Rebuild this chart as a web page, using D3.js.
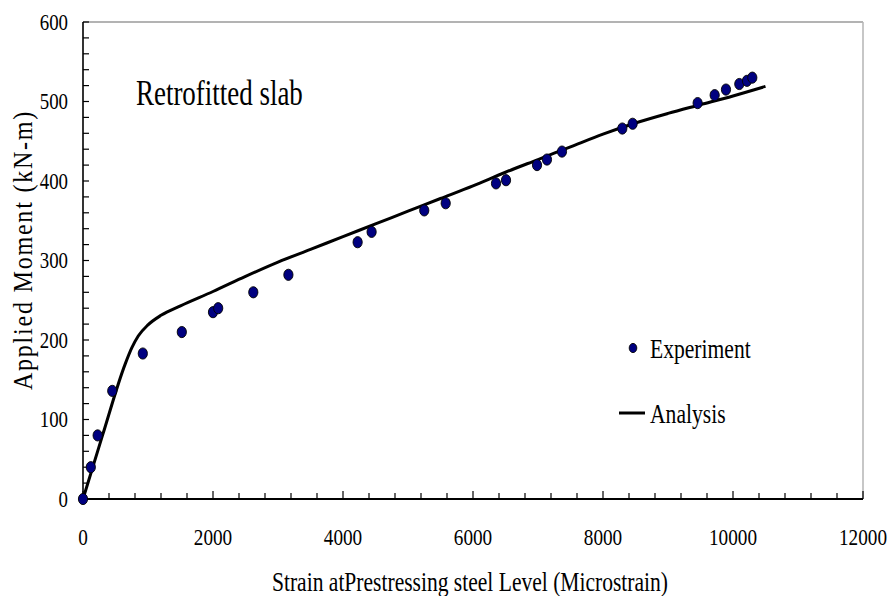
<!DOCTYPE html>
<html>
<head>
<meta charset="utf-8">
<script src="https://cdn.jsdelivr.net/npm/d3@7"></script>
<style>
  html, body { margin: 0; padding: 0; background: #fff; }
  svg { display: block; }
</style>
</head>
<body>
<svg id="chart" width="890" height="596"></svg>
<script>
// ---- data ----
const expStrain = [0, 120, 225, 450, 920, 1520, 2000, 2080, 2620, 3160, 4225, 4440, 5250, 5580, 6354, 6508, 6985, 7138, 7369, 8297, 8456, 9456, 9718, 9892, 10097, 10215, 10297];
const expMoment = [0, 40, 80, 136, 183, 210, 235, 240, 260, 282, 323, 336, 363, 372, 397, 401, 420, 427, 437, 466, 472, 498, 508, 515, 522, 526, 530];
const anaStrain = [0, 300, 650, 750, 850, 1000, 1200, 1500, 2000, 2500, 3000, 3500, 4000, 4500, 5000, 5500, 6000, 6500, 7000, 7500, 8000, 8500, 9000, 9500, 10000, 10500];
const anaMoment = [0, 80, 170, 190, 205, 219, 231, 243, 261, 280, 298, 314, 330, 346, 362, 378, 394, 411, 427, 443, 459, 473, 485, 496, 507, 519];
const xTickLabels = [0, 2000, 4000, 6000, 8000, 10000, 12000];
const yTickLabels = [0, 100, 200, 300, 400, 500, 600];
const xTitle = "Strain atPrestressing steel Level (Microstrain)";
const yTitle = "Applied Moment (kN-m)";
const annotation = "Retrofitted slab";
const legendLabels = ["Experiment", "Analysis"];

// ---- layout ----
const FONT = "Liberation Serif, Times New Roman, serif";
const L = 83, R = 863, T = 22, B = 499;
const svg = d3.select("#chart");
const x = d3.scaleLinear().domain([0, 12000]).range([L, R]);
const y = d3.scaleLinear().domain([0, 600]).range([B, T]);

function sText(parent, px, py, str, size, sx, anchor, rotate) {
  const g = parent.append("g")
    .attr("transform", `translate(${px},${py})` + (rotate ? ` rotate(${rotate})` : "") + ` scale(${sx},1)`);
  return g.append("text")
    .attr("font-family", FONT)
    .attr("font-size", size)
    .attr("fill", "#000")
    .attr("text-anchor", anchor || "start")
    .text(str);
}

// frame (top & right light grey)
svg.append("line").attr("x1", L).attr("x2", R).attr("y1", T).attr("y2", T)
  .attr("stroke", "#9a9a9a").attr("stroke-width", 1.5);
svg.append("line").attr("x1", R).attr("x2", R).attr("y1", T).attr("y2", B)
  .attr("stroke", "#b5b5b5").attr("stroke-width", 1.5);

// y axis
const yMinor = d3.range(0, 601, 20);
svg.append("g").selectAll("line").data(yMinor).join("line")
  .attr("x1", L).attr("x2", L + 6)
  .attr("y1", d => y(d)).attr("y2", d => y(d))
  .attr("stroke", "#000").attr("stroke-width", 1.2);
svg.append("line").attr("x1", L).attr("x2", L).attr("y1", T).attr("y2", B)
  .attr("stroke", "#000").attr("stroke-width", 1.6);
yTickLabels.forEach(v => sText(svg, 68, y(v) + 7.5, String(v), 23, 0.82, "end"));

// x axis
const xMinor = d3.range(0, 12001, 400);
svg.append("g").selectAll("line").data(xMinor).join("line")
  .attr("x1", d => x(d)).attr("x2", d => x(d))
  .attr("y1", B).attr("y2", d => (d % 2000 === 0 ? B - 8 : B - 6))
  .attr("stroke", "#000").attr("stroke-width", 1.2);
svg.append("line").attr("x1", L).attr("x2", R).attr("y1", B).attr("y2", B)
  .attr("stroke", "#000").attr("stroke-width", 2);
xTickLabels.forEach(v => sText(svg, x(v), 545, String(v), 24, 0.8, "middle"));

// titles
sText(svg, 470, 591, xTitle, 28, 0.77, "middle");
sText(svg, 32, 250, yTitle, 27, 0.89, "middle", -90).attr("letter-spacing", "2px");

// annotation
sText(svg, 136, 105, annotation, 35, 0.77, "start");

// analysis line
const line = d3.line().x(d => x(d[0])).y(d => y(d[1])).curve(d3.curveMonotoneX);
svg.append("path")
  .datum(anaStrain.map((s, i) => [s, anaMoment[i]]))
  .attr("d", line)
  .attr("fill", "none").attr("stroke", "#000").attr("stroke-width", 3)
  .attr("stroke-linejoin", "round");

// experiment points
svg.append("g").selectAll("ellipse")
  .data(expStrain.map((s, i) => [s, expMoment[i]]))
  .join("ellipse")
  .attr("cx", d => x(d[0])).attr("cy", d => y(d[1]))
  .attr("rx", 4.6).attr("ry", 5.6)
  .attr("fill", "#000080").attr("stroke", "#000").attr("stroke-width", 0.9);

// legend
svg.append("ellipse").attr("cx", 633).attr("cy", 348).attr("rx", 3.8).attr("ry", 4.6)
  .attr("fill", "#000080").attr("stroke", "#000").attr("stroke-width", 0.9);
sText(svg, 650, 358, legendLabels[0], 27, 0.8, "start");
svg.append("line").attr("x1", 619).attr("x2", 645).attr("y1", 413).attr("y2", 413)
  .attr("stroke", "#000").attr("stroke-width", 3);
sText(svg, 650, 423, legendLabels[1], 27, 0.8, "start");
</script>
</body>
</html>
